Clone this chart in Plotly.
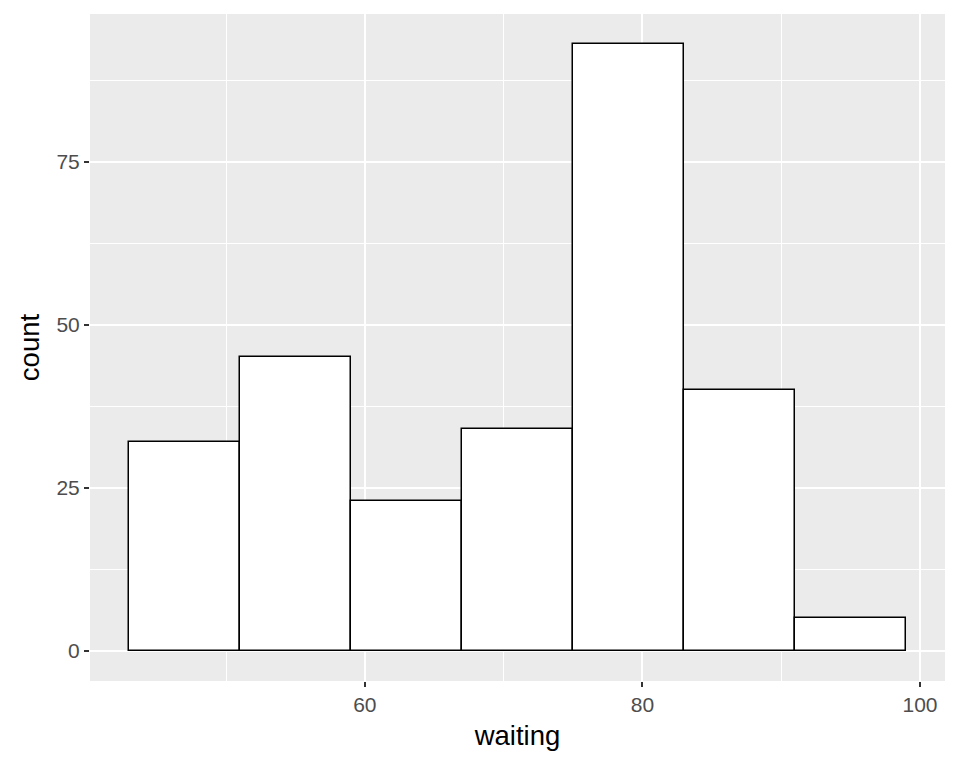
import plotly.graph_objects as go

bin_left = [43, 51, 59, 67, 75, 83, 91]
bin_width = 8
counts = [32, 45, 23, 34, 93, 40, 5]
x_ticks = [60, 80, 100]
y_ticks = [0, 25, 50, 75]
x_minor = [50, 70, 90]
y_minor = [12.5, 37.5, 62.5, 87.5]

centers = [b + bin_width / 2 for b in bin_left]

fig = go.Figure(go.Bar(
    x=centers, y=counts, width=[bin_width] * len(counts),
    marker=dict(color="white", line=dict(color="black", width=1.5)),
))

xmin, xmax = bin_left[0], bin_left[-1] + bin_width
xpad = (xmax - xmin) * 0.05
ymax = max(counts)
ypad = ymax * 0.05

fig.update_layout(
    width=960, height=768,
    margin=dict(l=82, r=23, t=6, b=95),
    paper_bgcolor="white", plot_bgcolor="#EBEBEB",
    showlegend=False, bargap=0,
    font=dict(family="Liberation Sans, Arial, sans-serif"),
    xaxis=dict(
        range=[xmin - xpad, xmax + xpad], tickvals=x_ticks,
        showgrid=True, gridcolor="white", gridwidth=1.6, zeroline=False,
        ticks="outside", ticklen=5, tickcolor="#333333", tickwidth=1.5,
        tickfont=dict(size=21, color="#4D4D4D"),
        title=dict(text="waiting", font=dict(size=27.5, color="black"), standoff=10),
        minor=dict(tickvals=x_minor, showgrid=True, gridcolor="white", gridwidth=0.8, ticks=""),
    ),
    yaxis=dict(
        range=[-ypad, ymax + ypad], tickvals=y_ticks,
        showgrid=True, gridcolor="white", gridwidth=1.6, zeroline=False,
        ticks="outside", ticklen=5, tickcolor="#333333", tickwidth=1.5,
        tickfont=dict(size=21, color="#4D4D4D"),
        title=dict(text="count", font=dict(size=27.5, color="black"), standoff=8),
        minor=dict(tickvals=y_minor, showgrid=True, gridcolor="white", gridwidth=0.8, ticks=""),
    ),
)

fig.write_html("out.html")
